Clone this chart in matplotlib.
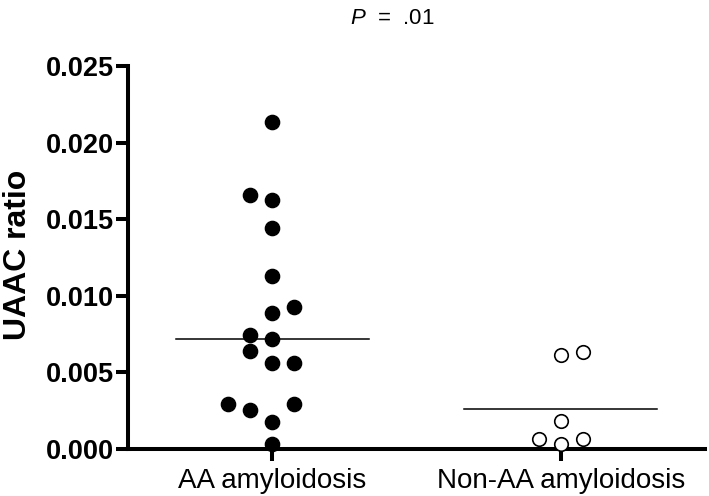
import numpy as np
import matplotlib
matplotlib.use('Agg')
import matplotlib.pyplot as plt

plt.rcParams['font.family'] = ['Liberation Sans', 'DejaVu Sans']
plt.rcParams['mathtext.fontset'] = 'custom'
plt.rcParams['mathtext.it'] = 'Liberation Sans:italic'
plt.rcParams['mathtext.rm'] = 'Liberation Sans'

groups = ['AA amyloidosis', 'Non-AA amyloidosis']

# UAAC ratio values
aa_values = [0.02133, 0.01658, 0.01625, 0.01443, 0.01129, 0.00888, 0.00927,
             0.00744, 0.00718, 0.00640, 0.00561, 0.00561, 0.00294, 0.00255,
             0.00294, 0.00176, 0.00033]
aa_cols = [0, -1, 0, 0, 0, 0, 1, -1, 0, -1, 0, 1, -2, -1, 1, 0, 0]

nonaa_values = [0.00614, 0.00633, 0.00183, 0.00065, 0.00065, 0.00030]
nonaa_cols = [0, 1, 0, -1, 1, 0]

center_lines = [0.00718, 0.00262]
p_text = '.01'

step = 0.077  # horizontal spacing between dot columns

fig = plt.figure(figsize=(7.09, 4.96), dpi=100)
ax = fig.add_axes([0.1805, 0.0948, 0.8139, 0.7722])

ax.scatter(0 + np.array(aa_cols) * step, aa_values, s=105, color='k',
           zorder=3, clip_on=False)
ax.scatter(1 + np.array(nonaa_cols) * step, nonaa_values, s=95,
           facecolor='white', edgecolor='k', linewidth=1.2, zorder=3,
           clip_on=False)

for i, c in enumerate(center_lines):
    ax.plot([i - 0.335, i + 0.335], [c, c], color='k', lw=1.1, zorder=2)

ax.set_xlim(-0.5, 1.5)
ax.set_ylim(0, 0.025)
ax.set_yticks(np.arange(0, 0.0251, 0.005))
ax.set_yticklabels(['%.3f' % v for v in np.arange(0, 0.0251, 0.005)],
                   fontsize=19.5, fontweight='bold')
ax.set_xticks([0, 1])
ax.set_xticklabels(groups, fontsize=20)

for s in ['top', 'right']:
    ax.spines[s].set_visible(False)
for s in ['left', 'bottom']:
    ax.spines[s].set_linewidth(2.9)
    ax.spines[s].set_capstyle('projecting')
ax.tick_params(axis='both', length=8.6, width=2.9, color='k')
ax.tick_params(axis='y', pad=1.5)
ax.tick_params(axis='x', pad=5)

ax.set_ylabel('UAAC ratio', fontsize=23, fontweight='bold')
ax.yaxis.set_label_coords(-0.165, 0.507)

fig.text(392 / 709, 1 - 18 / 496, r'$\it{P}$  =  ' + p_text, fontsize=16,
         ha='center', va='center')

fig.savefig('out.png', dpi=100)
